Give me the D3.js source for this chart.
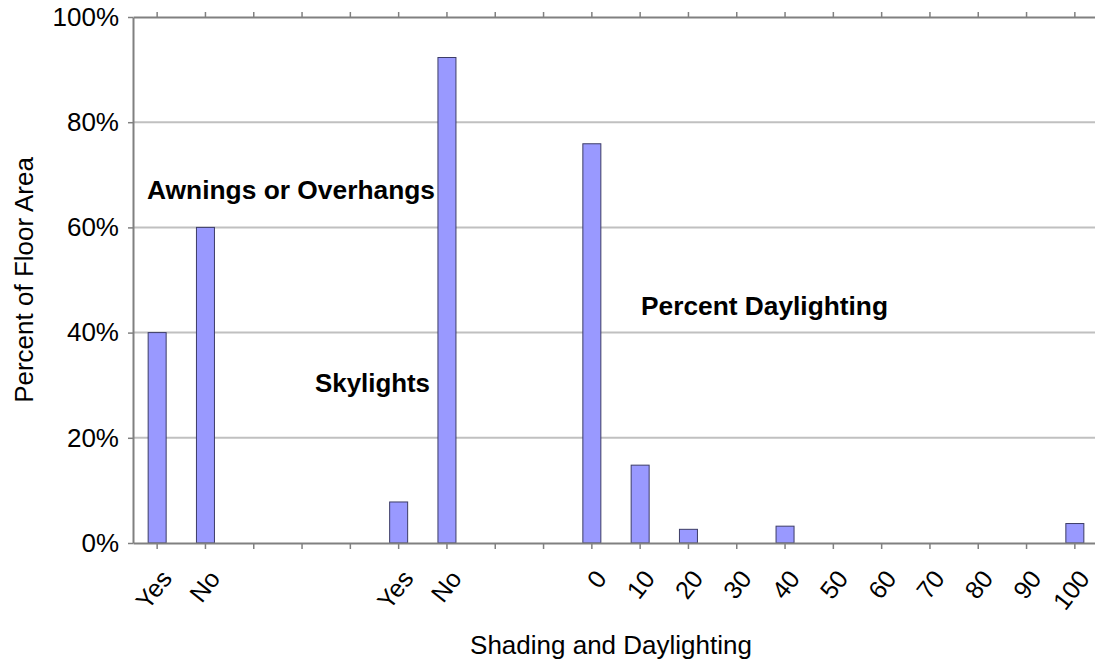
<!DOCTYPE html>
<html>
<head>
<meta charset="utf-8">
<script src="https://cdn.jsdelivr.net/npm/d3@7"></script>
<style>
  html, body { margin: 0; padding: 0; background: #fff; }
  svg { display: block; font-family: "Liberation Sans", Arial, sans-serif; }
</style>
</head>
<body>
<svg id="chart" width="1095" height="661"></svg>
<script>
// ---- data ----
const categories = ["Yes", "No", "", "", "", "Yes", "No", "", "", "0", "10", "20", "30", "40", "50", "60", "70", "80", "90", "100"];
const values = [0.40, 0.60, 0, 0, 0, 0.078, 0.923, 0, 0, 0.759, 0.148, 0.026, 0, 0.032, 0, 0, 0, 0, 0, 0.037];
const yTicks = [0, 0.2, 0.4, 0.6, 0.8, 1.0];
const groupLabels = ["Awnings or Overhangs", "Skylights", "Percent Daylighting"];
const yTitle = "Percent of Floor Area";
const xTitle = "Shading and Daylighting";

// ---- layout ----
const svg = d3.select("#chart");
const plotLeft = 133, plotTop = 17, bandStep = 48.3;
const plotW = bandStep * categories.length, plotH = 526;

const x = d3.scaleBand().domain(d3.range(categories.length)).range([plotLeft, plotLeft + plotW]).padding(0);
const y = d3.scaleLinear().domain([0, 1]).range([plotTop + plotH, plotTop]);
const barW = 18;

// gridlines
svg.append("g")
  .selectAll("line")
  .data(yTicks.filter(d => d > 0 && d < 1))
  .join("line")
  .attr("x1", plotLeft).attr("x2", plotLeft + plotW)
  .attr("y1", d => y(d)).attr("y2", d => y(d))
  .attr("stroke", "#c0c0c0").attr("stroke-width", 2);

// top axis line with ticks
const topAxis = svg.append("g")
  .attr("transform", `translate(0,${y(1)})`)
  .call(d3.axisTop(x).tickSize(5).tickSizeOuter(0).tickFormat(""));
topAxis.select(".domain").attr("stroke", "#808080").attr("stroke-width", 2);
topAxis.selectAll(".tick line").attr("stroke", "#808080").attr("stroke-width", 1.5);

// bars
svg.append("g")
  .selectAll("rect")
  .data(values.map((v, i) => ({ i, v })).filter(d => d.v > 0))
  .join("rect")
  .attr("x", d => x(d.i) + x.bandwidth() / 2 - barW / 2)
  .attr("width", barW)
  .attr("y", d => y(d.v))
  .attr("height", d => y(0) - y(d.v))
  .attr("fill", "#9999ff")
  .attr("stroke", "#3c3c66")
  .attr("stroke-width", 1);

// y axis
const yAxis = svg.append("g")
  .attr("transform", `translate(${plotLeft},0)`)
  .call(d3.axisLeft(y).tickValues(yTicks).tickFormat(d3.format(".0%")).tickSize(5).tickSizeOuter(0).tickPadding(9));
yAxis.select(".domain").attr("stroke", "#808080").attr("stroke-width", 2);
yAxis.selectAll(".tick line").attr("stroke", "#808080").attr("stroke-width", 1.5);
yAxis.selectAll(".tick text")
  .attr("font-size", 26).attr("fill", "#000")
  .attr("font-family", '"Liberation Sans", Arial, sans-serif');

// bottom axis
const xAxis = svg.append("g")
  .attr("transform", `translate(0,${y(0)})`)
  .call(d3.axisBottom(x).tickSize(6).tickSizeOuter(0).tickFormat(i => categories[i]));
xAxis.select(".domain").attr("stroke", "#808080").attr("stroke-width", 2);
xAxis.selectAll(".tick line").attr("stroke", "#808080").attr("stroke-width", 1.5);
xAxis.selectAll(".tick text")
  .attr("font-size", 25).attr("fill", "#000")
  .attr("font-family", '"Liberation Sans", Arial, sans-serif')
  .attr("text-anchor", "end")
  .attr("y", 0).attr("dy", "0.71em")
  .attr("transform", "translate(2,25) rotate(-52)");

// group annotations
const annPos = [[147, 199], [315, 392], [641, 315]];
svg.append("g")
  .selectAll("text")
  .data(groupLabels)
  .join("text")
  .attr("x", (d, i) => annPos[i][0])
  .attr("y", (d, i) => annPos[i][1])
  .attr("font-size", 26).attr("font-weight", "bold").attr("fill", "#000")
  .attr("textLength", (d, i) => [288, 115, 247][i])
  .attr("lengthAdjust", "spacingAndGlyphs")
  .text(d => d);

// axis titles
svg.append("text")
  .attr("transform", `translate(33,${(y(0) + y(1)) / 2}) rotate(-90)`)
  .attr("text-anchor", "middle")
  .attr("font-size", 26).attr("fill", "#000")
  .text(yTitle);

svg.append("text")
  .attr("x", 611).attr("y", 654)
  .attr("text-anchor", "middle")
  .attr("font-size", 26).attr("fill", "#000")
  .text(xTitle);
</script>
</body>
</html>
